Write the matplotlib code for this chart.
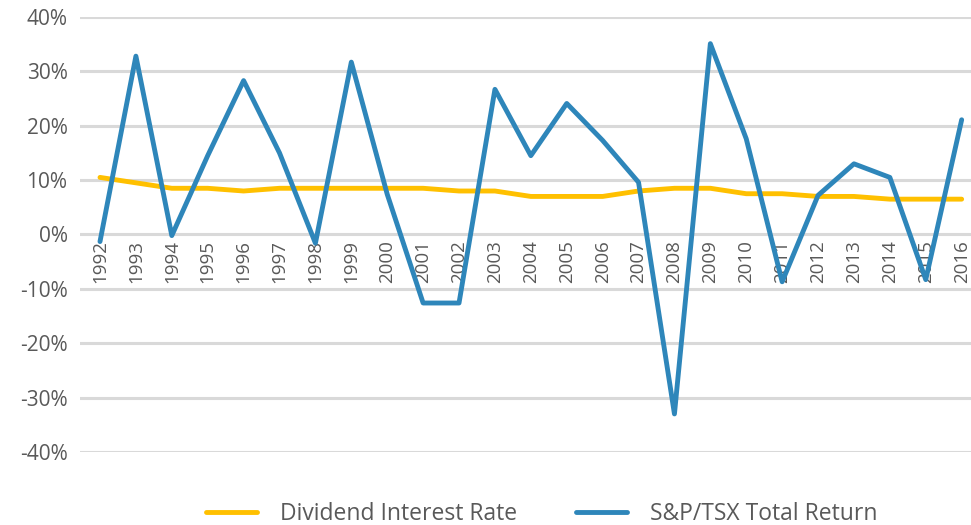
import matplotlib.pyplot as plt
import numpy as np

years = [str(y) for y in range(1992, 2017)]
dividend_rate = [10.5, 9.5, 8.5, 8.5, 8.0, 8.5, 8.5, 8.5, 8.5, 8.5, 8.0, 8.0, 7.0,
                 7.0, 7.0, 8.0, 8.5, 8.5, 7.5, 7.5, 7.0, 7.0, 6.5, 6.5, 6.5]
tsx_return = [-1.3, 32.8, -0.2, 14.5, 28.3, 15.0, -1.6, 31.7, 7.4, -12.6, -12.6, 26.7, 14.5,
              24.1, 17.3, 9.6, -33.0, 35.1, 17.6, -8.7, 7.2, 13.0, 10.5, -8.3, 21.1]

grey_text = '#595959'
font = 'Open Sans'

fig = plt.figure(figsize=(9.71, 5.25), dpi=100)
ax = fig.add_axes([80 / 971, 1 - 452 / 525, 891 / 971, 435 / 525])

x = np.arange(len(years))
ax.plot(x, dividend_rate, color='#FFC000', linewidth=3.5, solid_capstyle='round',
        label='Dividend Interest Rate', zorder=3)
ax.plot(x, tsx_return, color='#2E86BA', linewidth=3.5, solid_capstyle='round',
        label='S&P/TSX Total Return', zorder=4)

ax.set_ylim(-40, 40)
ax.set_xlim(-0.557, 24.26)
ax.set_yticks(np.arange(-40, 41, 10))
ax.set_yticklabels([f'{v}%' for v in range(-40, 41, 10)], fontsize=15,
                   color=grey_text, family=font)
ax.grid(axis='y', color='#D9D9D9', linewidth=2.2)
ax.set_axisbelow(True)
ax.set_xticks([])
ax.tick_params(axis='y', length=0, pad=9)
for s in ax.spines.values():
    s.set_visible(False)

for i, yr in enumerate(years):
    ax.text(i, -1.0, yr, rotation=90, ha='center', va='top', fontsize=13.5,
            color=grey_text, family=font, zorder=2)

leg = fig.legend(loc='lower center', bbox_to_anchor=(0.558, -0.042), ncol=2, frameon=False,
                 prop={'family': font, 'size': 16.5}, handlelength=2.2, columnspacing=2.6,
                 handletextpad=1.0)
for t in leg.get_texts():
    t.set_color(grey_text)

fig.savefig('out.png', dpi=100)
